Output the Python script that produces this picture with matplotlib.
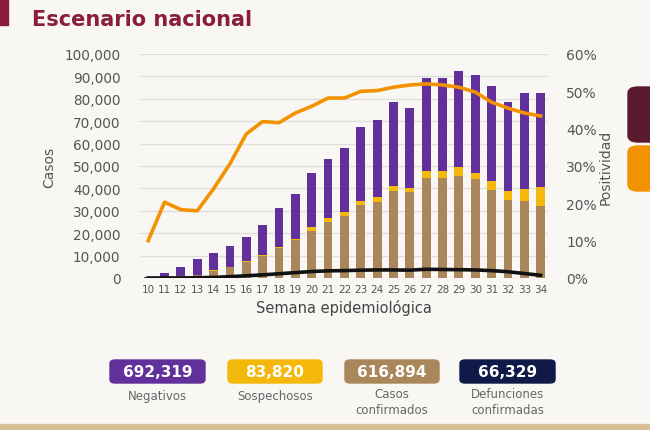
import matplotlib
matplotlib.use("Agg")
import matplotlib.pyplot as plt
from matplotlib.patches import FancyBboxPatch, Rectangle
import numpy as np

plt.rcParams['font.family'] = ['DejaVu Sans']

semanas = list(range(10, 35))
confirmados = [100, 300, 600, 1300, 3300, 4800, 7300, 10000, 13300, 17000, 21100, 25100, 27800,
               32700, 34100, 39000, 38200, 44500, 44500, 45700, 44200, 39400, 35000, 34500, 32300]
sospechosos = [20, 50, 100, 150, 200, 250, 300, 400, 500, 600, 1500, 1500, 1500,
               1800, 2200, 2200, 1800, 3100, 3100, 3700, 2700, 3800, 3700, 5200, 8200]
negativos = [280, 1750, 4200, 7050, 7700, 9050, 10800, 13400, 17300, 19900, 24300, 26500, 28900,
             32800, 34400, 37500, 35700, 41700, 41700, 43200, 43700, 42400, 40000, 42700, 41900]
defunciones = [0, 10, 30, 100, 250, 600, 1000, 1400, 1900, 2400, 2900, 3200, 3300,
               3500, 3600, 3600, 3500, 3900, 3800, 3700, 3600, 3300, 2800, 2000, 1200]
positividad = [10.0, 20.3, 18.3, 18.0, 23.9, 30.6, 38.6, 41.9, 41.6, 44.2, 46.0, 48.2, 48.2,
               50.0, 50.2, 51.1, 51.7, 52.0, 51.7, 51.1, 49.8, 47.1, 45.5, 44.2, 43.4]

totales_vals = ["692,319", "83,820", "616,894", "66,329"]
totales_lbls = ["Negativos", "Sospechosos", "Casos\nconfirmados", "Defunciones\nconfirmadas"]

c_purple = "#62309a"
c_yellow = "#f3b80a"
c_brown = "#a9875a"
c_navy = "#0f1a48"
c_orange = "#f39200"
c_title = "#8a1c3c"
c_text = "#555555"

W, H = 650, 431
fig = plt.figure(figsize=(6.5, 4.31), dpi=100)
fig.patch.set_facecolor("#f9f7f4")

def fx(px):
    return px / W
def fy(py):
    return 1 - py / H

ax = fig.add_axes([fx(140), fy(279), fx(548) - fx(140), fy(55) - fy(279)])
ax.set_facecolor("none")

x = np.array(semanas)
conf = np.array(confirmados)
sosp = np.array(sospechosos)
neg = np.array(negativos)
bw = 0.54
ax.bar(x, conf, width=bw, color=c_brown, zorder=2)
ax.bar(x, sosp, width=bw, bottom=conf, color=c_yellow, zorder=2)
ax.bar(x, neg, width=bw, bottom=conf + sosp, color=c_purple, zorder=2)
ax.plot(x, defunciones, color="#111111", lw=2.6, zorder=3)

ax.set_xlim(9.5, 34.45)
ax.set_ylim(0, 100000)
ax.set_yticks(range(0, 100001, 10000))
ax.set_yticklabels([f"{v:,}" for v in range(0, 100001, 10000)])
ax.set_xticks(semanas)
ax.set_xticklabels([str(s) for s in semanas])
ax.grid(axis="y", color="#dedede", lw=1, zorder=0)
for s in ax.spines.values():
    s.set_visible(False)
ax.tick_params(axis="both", length=0, colors=c_text)
ax.tick_params(axis="y", labelsize=9.8, pad=14)
ax.tick_params(axis="x", labelsize=7.5, pad=4)
ax.set_ylabel("Casos", fontsize=10, color=c_text, labelpad=6)
ax.set_xlabel("Semana epidemiológica", fontsize=10.5, color="#444444", labelpad=4)

ax2 = ax.twinx()
ax2.plot(x, positividad, color=c_orange, lw=2.6, zorder=4)
ax2.set_ylim(0, 60)
ax2.set_yticks(range(0, 61, 10))
ax2.set_yticklabels([f"{v}%" for v in range(0, 61, 10)])
for s in ax2.spines.values():
    s.set_visible(False)
ax2.tick_params(axis="y", length=0, colors=c_text, labelsize=10, pad=13)
ax2.set_ylabel("Positividad", fontsize=10, color=c_text, labelpad=1)

# Title and decoration
fig.patches.append(Rectangle((0, fy(26)), fx(8), fy(0) - fy(26), transform=fig.transFigure,
                             color=c_title, zorder=1))
fig.text(fx(32), fy(20), "Escenario nacional", fontsize=15, fontweight="bold",
         color=c_title, va="center", ha="left")

# Right-side cut legend boxes
fig.patches.append(FancyBboxPatch((fx(628), fy(143)), fx(40), fy(88) - fy(143),
                                  boxstyle="round,pad=0,rounding_size=0.015",
                                  transform=fig.transFigure, color="#5a1a2e"))
fig.patches.append(FancyBboxPatch((fx(628), fy(192)), fx(40), fy(147) - fy(192),
                                  boxstyle="round,pad=0,rounding_size=0.015",
                                  transform=fig.transFigure, color=c_orange))

# Bottom stat boxes
boxes = [(110, 205, c_purple), (228, 322, c_yellow), (345, 439, c_brown), (460, 555, c_navy)]
for (x0, x1, col), val, lbl in zip(boxes, totales_vals, totales_lbls):
    fig.patches.append(FancyBboxPatch((fx(x0), fy(384)), fx(x1 - x0), fy(361) - fy(384),
                                      boxstyle="round,pad=0,rounding_size=0.008",
                                      transform=fig.transFigure, color=col))
    fig.text(fx((x0 + x1) / 2), fy(372.5), val, fontsize=11, fontweight="bold",
             color="white", ha="center", va="center")
    fig.text(fx((x0 + x1) / 2), fy(403) if "\n" in lbl else fy(397), lbl, fontsize=8.5,
             color="#666666", ha="center", va="center", linespacing=1.3)

# Bottom strip
fig.patches.append(Rectangle((0, 0), 1, fy(425), transform=fig.transFigure,
                             color="#d6c196", zorder=0))

fig.savefig("out.png", dpi=100, facecolor=fig.get_facecolor())
